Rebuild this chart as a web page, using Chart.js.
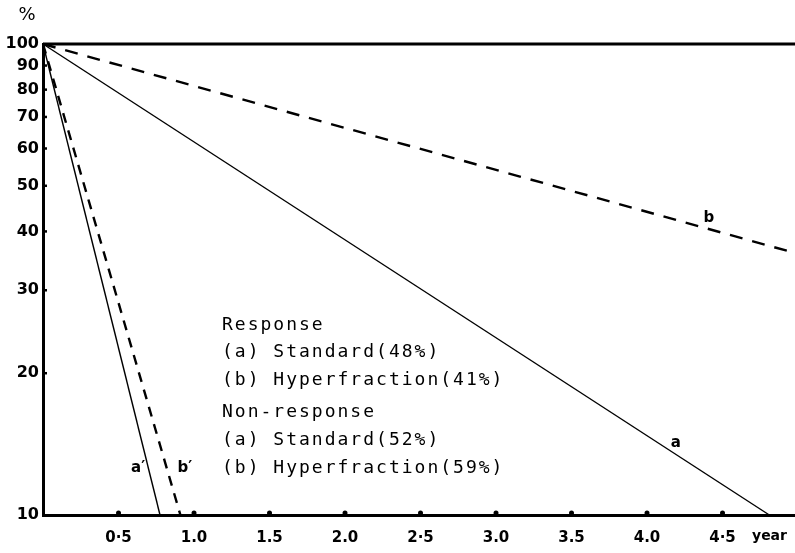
<!DOCTYPE html>
<html>
<head>
<meta charset="utf-8">
<script src="https://cdn.jsdelivr.net/npm/chart.js@4/dist/chart.umd.min.js"></script>
<style>
  html, body { margin: 0; padding: 0; background: #fff; }
  #wrap { width: 795px; height: 553px; position: relative; }
</style>
</head>
<body>
<div id="wrap"><canvas id="survChart"></canvas></div>
<script>
// survival curves, years vs percent (log scale)
const aYears = [0, 4.81];
const aPct = [100, 10];
const bYears = [0, 4.98];
const bPct = [100, 36];
const a2Years = [0, 0.775];
const a2Pct = [100, 10];
const b2Years = [0, 0.91];
const b2Pct = [100, 10];
const topYears = [0, 4.98];
const topPct = [100, 100];

const yTicks = [10, 20, 30, 40, 50, 60, 70, 80, 90, 100];
const xTicks = [0.5, 1.0, 1.5, 2.0, 2.5, 3.0, 3.5, 4.0, 4.5];
const xTickLabels = ['0·5', '1.0', '1.5', '2.0', '2·5', '3.0', '3.5', '4.0', '4·5'];

const legendLines = [
  'Response',
  '(a) Standard(48%)',
  '(b) Hyperfraction(41%)',
  'Non-response',
  '(a) Standard(52%)',
  '(b) Hyperfraction(59%)'
];

function pts(xs, ys) {
  return xs.map((x, i) => ({ x: x, y: ys[i] }));
}

// extra text + little tick bumps on the axes
const decorations = {
  id: 'decorations',
  afterDraw(chart) {
    const ctx = chart.ctx;
    const xs = chart.scales.x, ys = chart.scales.y;
    const area = chart.chartArea;
    ctx.save();
    ctx.fillStyle = '#000';
    ctx.strokeStyle = '#000';

    // tick bumps
    xTicks.forEach(v => {
      ctx.beginPath();
      ctx.arc(xs.getPixelForValue(v), area.bottom - 2, 2.5, 0, Math.PI * 2);
      ctx.fill();
    });
    ctx.lineWidth = 2.5;
    yTicks.slice(1, -1).forEach(v => {
      const py = ys.getPixelForValue(v);
      ctx.beginPath();
      ctx.moveTo(area.left, py);
      ctx.lineTo(area.left + 4, py);
      ctx.stroke();
    });

    // % sign and year
    ctx.font = '18px "DejaVu Sans"';
    ctx.textAlign = 'center';
    ctx.textBaseline = 'middle';
    ctx.fillText('%', 27, 15);
    ctx.textAlign = 'left';
    ctx.font = 'bold 14px "DejaVu Sans"';
    ctx.fillText('year', 752, 536);

    // curve labels
    ctx.font = 'bold 15px "DejaVu Sans"';
    ctx.textAlign = 'center';
    ctx.fillText('a', xs.getPixelForValue(4.19), ys.getPixelForValue(14.2));
    ctx.fillText('b', xs.getPixelForValue(4.41), ys.getPixelForValue(42.6));
    ctx.fillText('a′', xs.getPixelForValue(0.63), ys.getPixelForValue(12.6));
    ctx.fillText('b′', xs.getPixelForValue(0.94), ys.getPixelForValue(12.6));

    // response legend block
    ctx.font = '18px "DejaVu Sans Mono"';
    ctx.letterSpacing = '2px';
    ctx.textAlign = 'left';
    const lineY = [325, 352, 380, 412, 440, 468];
    legendLines.forEach((t, i) => ctx.fillText(t, 222, lineY[i]));
    ctx.restore();
  }
};

new Chart(document.getElementById('survChart'), {
  type: 'scatter',
  data: {
    datasets: [
      { label: 'top', data: pts(topYears, topPct), showLine: true, borderColor: '#000', borderWidth: 3, pointRadius: 0, clip: 5 },
      { label: 'a', data: pts(aYears, aPct), showLine: true, borderColor: '#000', borderWidth: 1.4, pointRadius: 0, clip: 5 },
      { label: 'b', data: pts(bYears, bPct), showLine: true, borderColor: '#000', borderWidth: 2.4, borderDash: [13, 10], pointRadius: 0, clip: 5 },
      { label: "a'", data: pts(a2Years, a2Pct), showLine: true, borderColor: '#000', borderWidth: 1.4, pointRadius: 0, clip: 5 },
      { label: "b'", data: pts(b2Years, b2Pct), showLine: true, borderColor: '#000', borderWidth: 2.4, borderDash: [10, 8], pointRadius: 0, clip: 5 }
    ]
  },
  options: {
    responsive: true,
    maintainAspectRatio: false,
    animation: false,
    layout: { padding: { top: 44, left: 0, right: 0, bottom: 0 } },
    plugins: {
      legend: { display: false },
      tooltip: { enabled: false }
    },
    scales: {
      x: {
        type: 'linear',
        min: 0,
        max: 4.98,
        grid: { display: false, drawTicks: false },
        border: { display: true, color: '#000', width: 3 },
        afterFit: s => { s.height = 38; },
        afterBuildTicks: s => { s.ticks = xTicks.map(v => ({ value: v })); },
        ticks: {
          color: '#000',
          padding: 14,
          maxRotation: 0,
          autoSkip: false,
          font: { family: 'DejaVu Sans', weight: 'bold', size: 15 },
          callback: (v) => xTickLabels[xTicks.indexOf(v)] || ''
        }
      },
      y: {
        type: 'logarithmic',
        min: 10,
        max: 100,
        grid: { display: false, drawTicks: false },
        border: { display: true, color: '#000', width: 3 },
        afterFit: s => { s.width = 43; },
        afterBuildTicks: s => { s.ticks = yTicks.map(v => ({ value: v })); },
        ticks: {
          color: '#000',
          padding: 4,
          autoSkip: false,
          font: { family: 'DejaVu Sans', weight: 'bold', size: 16 },
          callback: (v) => String(v)
        }
      }
    }
  },
  plugins: [decorations]
});
</script>
</body>
</html>
